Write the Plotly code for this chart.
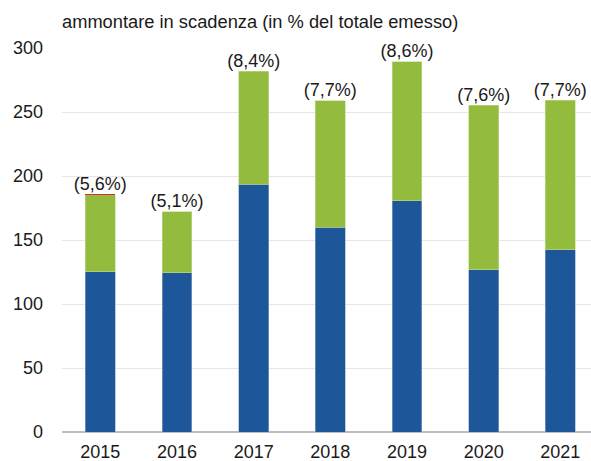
import plotly.graph_objects as go

years = ["2015", "2016", "2017", "2018", "2019", "2020", "2021"]
blue_vals = [125.1, 124.6, 193.5, 159.8, 180.6, 126.9, 142.5]
green_vals = [60.4, 47.6, 88.2, 99.1, 108.6, 128.5, 116.8]
red_vals = [0.4, 0, 0, 0, 0, 0, 0]
pct_labels = ["(5,6%)", "(5,1%)", "(8,4%)", "(7,7%)", "(8,6%)", "(7,6%)", "(7,7%)"]
title_text = "ammontare in scadenza (in % del totale emesso)"

FONT = "Liberation Sans, Arial, sans-serif"
TXT = "#1a1a1a"

fig = go.Figure()
fig.add_trace(go.Bar(x=years, y=blue_vals, marker=dict(color="#1D5799", line=dict(color="#8FA9CC", width=0.6)),
                     width=0.39, hoverinfo="skip"))
fig.add_trace(go.Bar(x=years, y=green_vals, marker=dict(color="#93BB3E", line=dict(color="#C3DA95", width=0.6)),
                     width=0.39, hoverinfo="skip"))
fig.add_trace(go.Bar(x=years, y=red_vals, marker=dict(color="#D0312D", line=dict(width=0)),
                     width=0.39, hoverinfo="skip"))

totals = [b + g + r for b, g, r in zip(blue_vals, green_vals, red_vals)]
fig.add_trace(go.Scatter(x=years, y=totals, mode="text", text=pct_labels, textposition="top center",
                         textfont=dict(family=FONT, size=18, color=TXT), hoverinfo="skip", cliponaxis=False))

fig.add_annotation(xref="paper", yref="paper", x=0, y=1, xanchor="left", yanchor="middle",
                   yshift=27, xshift=-2, text=title_text, showarrow=False,
                   font=dict(family=FONT, size=18.3, color=TXT))

fig.update_layout(
    width=591, height=461, barmode="stack", showlegend=False,
    plot_bgcolor="white", paper_bgcolor="white",
    margin=dict(l=62, r=0, t=48, b=29),
    font=dict(family=FONT, size=18, color=TXT),
)
fig.update_xaxes(type="category", range=[-0.5, 6.40], showgrid=False, showline=False, ticks="",
                 ticklabelstandoff=7, tickfont=dict(family=FONT, size=18, color=TXT))
fig.update_yaxes(range=[0, 300], dtick=50, showgrid=True, gridcolor="#E6E6E6", gridwidth=1,
                 zeroline=True, zerolinecolor="#BDBDBD", zerolinewidth=2,
                 showline=False, ticks="", ticklabelstandoff=18,
                 tickfont=dict(family=FONT, size=18, color=TXT))

fig.write_html("out.html", config={"displayModeBar": False},
               post_script="document.body.style.margin='0';document.body.style.padding='0';")
